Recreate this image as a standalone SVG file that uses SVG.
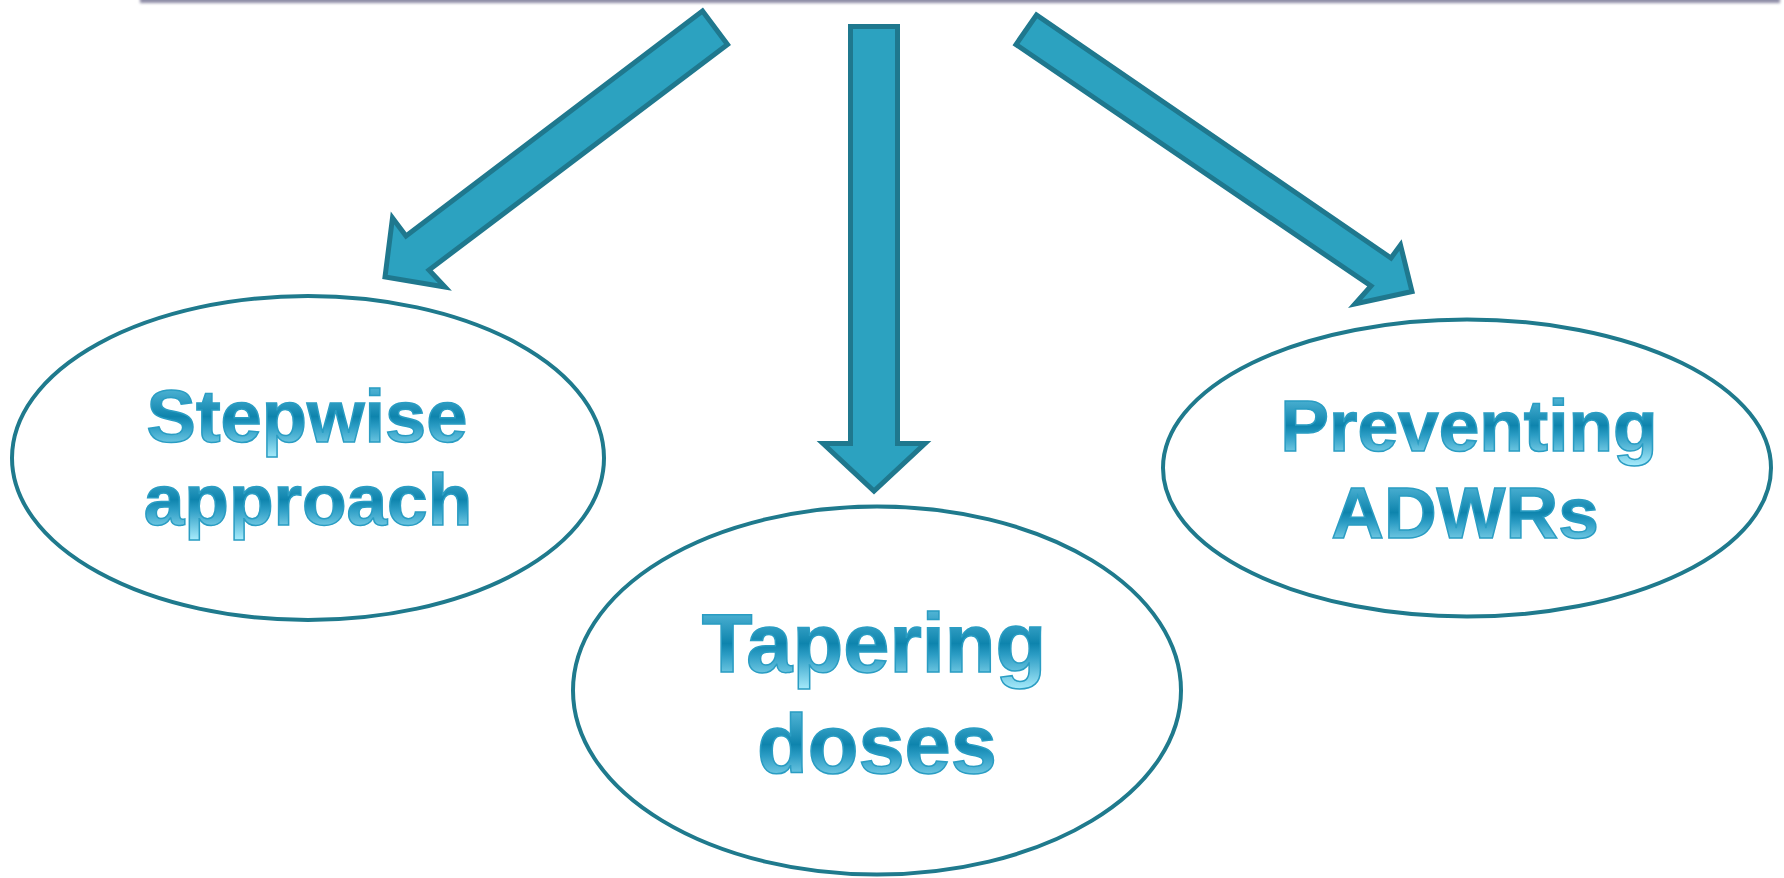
<svg xmlns="http://www.w3.org/2000/svg" width="1784" height="878" viewBox="0 0 1784 878">
<defs>
<linearGradient id="tg" x1="0" y1="0" x2="0" y2="1">
<stop offset="0" stop-color="#6cc8e6"/>
<stop offset="0.5" stop-color="#0e84ad"/>
<stop offset="0.62" stop-color="#2b9cc4"/>
<stop offset="1" stop-color="#a8ecfc"/>
</linearGradient>
<filter id="blur" x="-5%" y="-200%" width="110%" height="500%"><feGaussianBlur stdDeviation="1.6"/></filter>
<style>
.arr{fill:#2ca2c0;stroke:#1f788e;stroke-width:5;stroke-linejoin:miter}
.ell{fill:#ffffff;stroke:#1f7a8d;stroke-width:4}
.lbl{font-family:"Liberation Sans",Arial,sans-serif;font-weight:bold;fill:url(#tg);stroke:#2a9dc3;stroke-width:1.5;text-anchor:middle}
</style>
</defs>
<rect width="1784" height="878" fill="#ffffff"/>
<g id="topbar">
<rect x="140" y="-6" width="1640" height="9" fill="#8e8ca6" filter="url(#blur)"/>
</g>
<g id="connectors">
<polygon class="arr" points="702.5,11 727.5,44.5 429,270 445,287 385,277 392.5,218 406,236"/>
<polygon class="arr" points="850.5,26.5 897.5,26.5 897.5,443.5 925,443.5 874,491 823,443.5 850.5,443.5"/>
<polygon class="arr" points="1036.5,15 1016,44.5 1371,286 1355,304 1412,291.5 1400.5,245 1391,258"/>
</g>
<g id="node-stepwise">
<ellipse class="ell" cx="308" cy="458" rx="296" ry="162"/>
<text class="lbl" x="307" y="442" font-size="74">Stepwise</text>
<text class="lbl" x="308" y="525" font-size="73">approach</text>
</g>
<g id="node-tapering">
<ellipse class="ell" cx="877" cy="690.5" rx="304" ry="184"/>
<text class="lbl" x="874" y="672" font-size="83">Tapering</text>
<text class="lbl" x="877" y="773" font-size="83">doses</text>
</g>
<g id="node-preventing">
<ellipse class="ell" cx="1467" cy="468" rx="304" ry="148.5"/>
<text class="lbl" x="1469" y="451" font-size="73">Preventing</text>
<text class="lbl" x="1465" y="538" font-size="73">ADWRs</text>
</g>
</svg>
